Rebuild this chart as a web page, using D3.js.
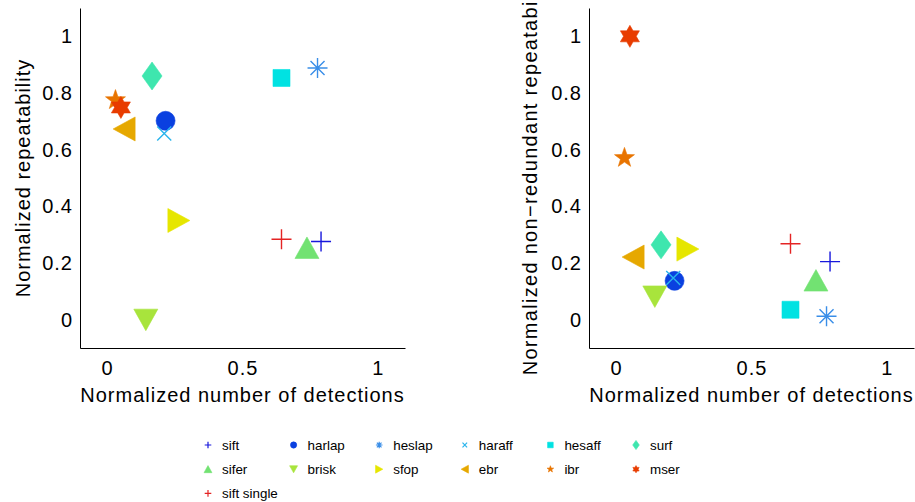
<!DOCTYPE html>
<html>
<head>
<meta charset="utf-8">
<script src="https://cdn.jsdelivr.net/npm/d3@7"></script>
<style>
  body { margin: 0; background: #fff; }
  svg text { font-family: "Liberation Sans", Arial, Helvetica, sans-serif; fill: #000; }
</style>
</head>
<body>
<svg id="chart" width="915" height="502"></svg>
<script>
// detectors, drawn in this order
const detectors = ['sift', 'harlap', 'heslap', 'haraff', 'hesaff', 'surf',
                   'sifer', 'brisk', 'sfop', 'ebr', 'ibr', 'mser', 'sift single']
const shapes = ['plus', 'circle', 'asterisk', 'cross', 'square', 'diamond',
                'triUp', 'triDown', 'triRight', 'triLeft', 'pentagram', 'hexagram', 'plus']
const colors = ['#1818dc', '#0a40e0', '#3a8ee8', '#2ab4ec', '#00e2e2', '#3ee6ae',
                '#72e272', '#a8e43c', '#e6e600', '#e6a800', '#e87400', '#e83c00', '#e42424']

// normalized number of detections (same for both panels)
const detections = [0.79, 0.216, 0.777, 0.211, 0.644, 0.166, 0.738, 0.143, 0.265, 0.063, 0.031, 0.051, 0.644]
// left panel: normalized repeatability
const repeatability = [0.276, 0.702, 0.888, 0.657, 0.853, 0.86, 0.253, 0.0, 0.35, 0.673, 0.775, 0.749, 0.284]
// right panel: normalized non-redundant repeatability
const nonRedundant = [0.205, 0.137, 0.012, 0.147, 0.035, 0.264, 0.138, 0.082, 0.249, 0.221, 0.571, 1.0, 0.268]

const yTicks = [0, 0.2, 0.4, 0.6, 0.8, 1]
const xTicks = [0, 0.5, 1]

const panels = [
    { values: repeatability, left: 80, label: 'Normalized repeatability', labelX: 29.5, labelY: 178, spacing: 1 },
    { values: nonRedundant, left: 589, label: 'Normalized non\u2212redundant repeatability', labelX: 537, labelY: 173, spacing: 1.3 }
]

const svg = d3.select('#chart')
const color = d3.scaleOrdinal(detectors, colors)
const filled = new Set(['circle', 'square', 'diamond', 'triUp', 'triDown', 'triRight', 'triLeft', 'pentagram', 'hexagram'])

function star(n, R, r, rot) {
    let pts = []
    for (let i = 0; i < 2 * n; i += 1) {
        let a = rot + i * Math.PI / n
        let rad = i % 2 === 0 ? R : r
        pts.push([rad * Math.cos(a), rad * Math.sin(a)])
    }
    return 'M' + pts.map(p => p[0].toFixed(2) + ',' + p[1].toFixed(2)).join('L') + 'Z'
}

function markerPath(shape, k) {
    const poly = pts => 'M' + pts.map(p => (p[0] * k) + ',' + (p[1] * k)).join('L') + 'Z'
    switch (shape) {
        case 'plus': return `M${-10 * k},0H${10 * k}M0,${-10 * k}V${10 * k}`
        case 'cross': return `M${-7 * k},${-7 * k}L${7 * k},${7 * k}M${-7 * k},${7 * k}L${7 * k},${-7 * k}`
        case 'asterisk': return `M${-10 * k},0H${10 * k}M0,${-10 * k}V${10 * k}` +
            `M${-7 * k},${-7 * k}L${7 * k},${7 * k}M${-7 * k},${7 * k}L${7 * k},${-7 * k}`
        case 'circle': return d3.symbol(d3.symbolCircle, Math.PI * (9.5 * k) ** 2)()
        case 'square': return poly([[-8.5, -8.5], [8.5, -8.5], [8.5, 8.5], [-8.5, 8.5]])
        case 'diamond': return poly([[0, -14], [10, 0], [0, 14], [-10, 0]])
        case 'triUp': return poly([[0, -11], [12, 10.5], [-12, 10.5]])
        case 'triDown': return poly([[0, 11], [12, -10.5], [-12, -10.5]])
        case 'triRight': return poly([[11, 0], [-11, -12], [-11, 12]])
        case 'triLeft': return poly([[-11, 0], [11, -12], [11, 12]])
        case 'pentagram': return star(5, 10.5 * k, 4.2 * k, -Math.PI / 2)
        case 'hexagram': return star(6, 11 * k, 6.35 * k, -Math.PI / 2)
    }
}

function drawMarker(g, i, x, y, k) {
    let shape = shapes[i]
    let c = color(detectors[i])
    let p = g.append('path')
        .attr('transform', `translate(${x},${y})`)
        .attr('d', markerPath(shape, k))
    if (filled.has(shape)) {
        p.attr('fill', c).attr('stroke', c).attr('stroke-width', 0.6)
    } else {
        p.attr('fill', 'none').attr('stroke', c).attr('stroke-width', k < 0.5 ? 1.2 : 1.4)
    }
}

panels.forEach(panel => {
    let x = d3.scaleLinear([-0.1, 1.1], [panel.left, panel.left + 325])
    let y = d3.scaleLinear([-0.1, 1.1], [348, 8])
    let g = svg.append('g')

    g.append('g')
        .attr('transform', `translate(${panel.left},0)`)
        .call(d3.axisLeft(y).tickValues(yTicks).tickSize(0).tickSizeOuter(0).tickPadding(7)
            .tickFormat(d => String(+d.toFixed(1))))
    g.append('g')
        .attr('transform', 'translate(0,348)')
        .call(d3.axisBottom(x).tickValues(xTicks).tickSize(0).tickSizeOuter(0).tickPadding(13)
            .tickFormat(d => String(d)))
    g.selectAll('.domain').attr('stroke', '#000').attr('stroke-width', 1)
    g.selectAll('.tick text')
        .attr('font-family', '"Liberation Sans", Arial, sans-serif')
        .attr('font-size', 20)
        .attr('letter-spacing', 1)
        .attr('fill', '#000')

    g.append('text')
        .attr('x', (x.range()[0] + x.range()[1]) / 2)
        .attr('y', 401.5)
        .attr('text-anchor', 'middle')
        .attr('font-size', 20)
        .attr('letter-spacing', 1)
        .text('Normalized number of detections')

    // the right label is longer than the figure is tall; it runs off the top as in the original
    g.append('text')
        .attr('transform', `translate(${panel.labelX},${panel.labelY}) rotate(-90)`)
        .attr('text-anchor', 'middle')
        .attr('font-size', 20)
        .attr('letter-spacing', panel.spacing)
        .text(panel.label)

    let marks = g.append('g')
    detectors.forEach((d, i) => {
        drawMarker(marks, i, x(detections[i]), y(panel.values[i]), 1)
    })
})

// legend
const legend = svg.append('g')
detectors.forEach((d, i) => {
    let col = i % 6
    let row = Math.floor(i / 6)
    let mx = 208 + col * 85.6
    let my = 445 + row * 24.2
    drawMarker(legend, i, mx, my, 0.33)
    legend.append('text')
        .attr('x', mx + 14)
        .attr('y', my + 5)
        .attr('font-size', 13.4)
        .text(d)
})
</script>
</body>
</html>
